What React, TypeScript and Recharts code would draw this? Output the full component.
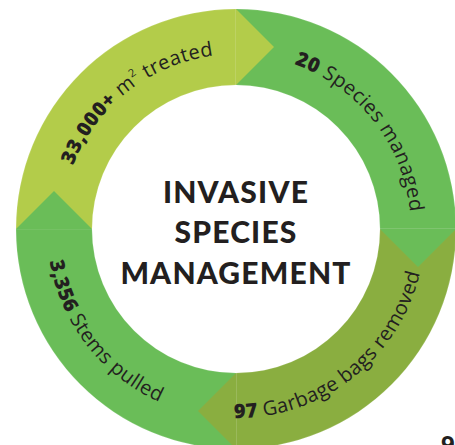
import { PieChart, Pie, Cell } from 'recharts';

const segments = ['area', 'species', 'bags', 'stems'];
const values = [1, 1, 1, 1];
const boldTexts = ['33,000+', '20', '97', '3,356'];
const unitTexts = ['m', '', '', ''];
const unitSups = ['2', '', '', ''];
const wordTexts = ['treated', 'Species managed', 'Garbage bags removed', 'Stems pulled'];
const colors = ['#b3cc4a', '#6abd58', '#8aae40', '#6abd58'];
const titleLines = ['INVASIVE', 'SPECIES', 'MANAGEMENT'];

const data = segments.map((name, i) => ({ name, value: values[i] }));

const RAD = Math.PI / 180;
const FS = 20;
const INK = '#231f20';
const CX = 236;
const CY = 229;

const pt = (cx: number, cy: number, r: number, a: number) => [cx + r * Math.cos(a * RAD), cy - r * Math.sin(a * RAD)];

// chevron pointing clockwise out of the end of each sector
function ArrowLabel(props: any) {
  const { cx, cy, innerRadius, outerRadius, endAngle, index } = props;
  const w = outerRadius - innerRadius;
  const mid = (outerRadius + innerRadius) / 2;
  const [ix, iy] = pt(cx, cy, innerRadius, endAngle);
  const [ox, oy] = pt(cx, cy, outerRadius, endAngle);
  const [mx, my] = pt(cx, cy, mid, endAngle);
  const tx = mx + Math.sin(endAngle * RAD) * (w / 2);
  const ty = my + Math.cos(endAngle * RAD) * (w / 2);
  return <polygon points={`${ix},${iy} ${ox},${oy} ${tx},${ty}`} fill={colors[index]} />;
}

function TextLabel(props: any) {
  const { cx, cy, innerRadius, outerRadius, startAngle, endAngle, index } = props;
  const mid = (outerRadius + innerRadius) / 2;
  const w = outerRadius - innerRadius;
  const shift = (w / 2 / mid) / RAD / 2 + 1;
  const c = (startAngle + endAngle) / 2 - shift;
  const top = Math.sin(c * RAD) > 0;
  const r = top ? mid - 0.36 * FS : mid + 0.36 * FS;
  const a0 = top ? c + 85 : c - 85;
  const a1 = top ? c - 85 : c + 85;
  const [x0, y0] = pt(cx, cy, r, a0);
  const [x1, y1] = pt(cx, cy, r, a1);
  const id = `ring-path-${index}`;
  const d = `M ${x0} ${y0} A ${r} ${r} 0 0 ${top ? 1 : 0} ${x1} ${y1}`;
  return (
    <g>
      <defs>
        <path id={id} d={d} fill="none" />
      </defs>
      <text fill={INK} fontFamily="'Open Sans', sans-serif" fontSize={FS} letterSpacing={0.4}>
        <textPath href={`#${id}`} startOffset="50%" textAnchor="middle">
          <tspan fontWeight={800}>{boldTexts[index]}</tspan>
          {unitTexts[index] ? <tspan> {unitTexts[index]}</tspan> : null}
          {unitSups[index] ? <tspan fontSize={11} dy={-9}>{unitSups[index]}</tspan> : null}
          <tspan dy={unitSups[index] ? 9 : 0}> {wordTexts[index]}</tspan>
        </textPath>
      </text>
    </g>
  );
}

export default function App() {
  return (
    <div style={{ position: 'fixed', left: 0, top: 0, width: 455, height: 445, background: '#fff', overflow: 'hidden' }}>
      <PieChart width={455} height={445} margin={{ top: 0, right: 0, bottom: 0, left: 0 }}>
        <Pie data={data} dataKey="value" cx={CX} cy={CY} innerRadius={144} outerRadius={220}
          startAngle={180} endAngle={-180} stroke="rgba(255,255,255,0.25)" strokeWidth={0.6}
          label={ArrowLabel} labelLine={false} isAnimationActive={false}>
          {data.map((d, i) => <Cell key={d.name} fill={colors[i]} />)}
        </Pie>
        <Pie data={data} dataKey="value" cx={CX} cy={CY} innerRadius={144} outerRadius={220}
          startAngle={180} endAngle={-180} fill="none" stroke="none"
          label={TextLabel} labelLine={false} isAnimationActive={false} />
        {titleLines.map((line, i) => (
          <text key={line} x={CX} y={CY + 14 + (i - 1) * 40.5} textAnchor="middle" fill={INK}
            fontFamily="Lato, sans-serif" fontWeight={900} fontSize={30} letterSpacing={1.2}>
            {line}
          </text>
        ))}
        <text x={441} y={453} fill={INK} fontFamily="'Open Sans', sans-serif" fontWeight={700} fontSize={24}>9</text>
      </PieChart>
    </div>
  );
}
